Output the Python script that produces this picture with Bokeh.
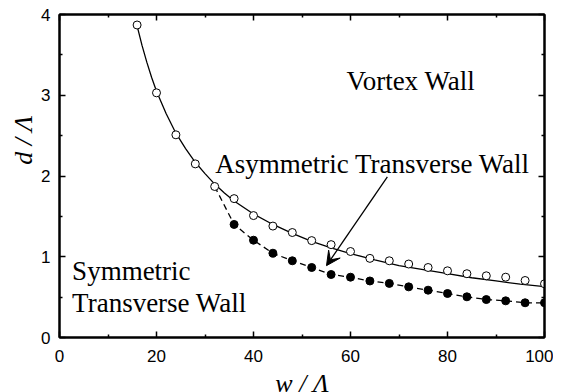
import math
from bokeh.plotting import figure
from bokeh.models import Range1d, LinearAxis, Label, Arrow, VeeHead, FixedTicker
from bokeh.embed import file_html
from bokeh.resources import INLINE

# open circles (Vortex / asymmetric boundary)
open_w = [16, 20, 24, 28, 32, 36, 40, 44, 48, 52, 56, 60, 64, 68, 72, 76, 80, 84, 88, 92, 96, 100]
open_d = [3.87, 3.03, 2.51, 2.15, 1.87, 1.72, 1.51, 1.38, 1.30, 1.20, 1.15, 1.065, 0.98, 0.95,
          0.91, 0.867, 0.826, 0.79, 0.764, 0.747, 0.706, 0.665]

# filled circles (symmetric / asymmetric boundary)
fill_w = [36, 40, 44, 48, 52, 56, 60, 64, 68, 72, 76, 80, 84, 88, 92, 96, 100]
fill_d = [1.40, 1.205, 1.044, 0.95, 0.867, 0.78, 0.747, 0.70, 0.67, 0.627, 0.586, 0.545,
          0.504, 0.47, 0.454, 0.43, 0.43]

# dashed connecting line (starts at the open point at w=32)
dash_w = [32] + fill_w
dash_d = [1.87] + fill_d

# solid fitted curve
fit_w = [16, 17, 18, 19, 20, 22, 24, 26, 28, 30, 32, 34, 36, 38, 40, 44, 48, 52, 56, 60,
         65, 70, 75, 80, 85, 90, 95, 100]
fit_d = [3.86, 3.62, 3.41, 3.22, 3.05, 2.77, 2.53, 2.34, 2.17, 2.03, 1.90, 1.79, 1.69, 1.61,
         1.53, 1.40, 1.29, 1.19, 1.11, 1.04, 0.96, 0.89, 0.84, 0.79, 0.74, 0.70, 0.66, 0.63]

x_ticks = [0, 20, 40, 60, 80, 100]
y_ticks = [0, 1, 2, 3, 4]
x_minor = [10, 30, 50, 70, 90]
y_minor = [0.5, 1.5, 2.5, 3.5]

SERIF = "Liberation Serif"
SANS = "Liberation Sans"

p = figure(frame_width=485, frame_height=323, output_backend="svg", toolbar_location=None,
           x_range=Range1d(0, 100), y_range=Range1d(0, 4),
           min_border_left=59, min_border_right=9, min_border_top=14, min_border_bottom=48)
p.grid.visible = False
p.outline_line_color = "black"
p.outline_line_width = 2


def style_axis(ax, ticks, minor, labels=True):
    ax.ticker = FixedTicker(ticks=ticks, minor_ticks=minor)
    ax.axis_line_width = 2
    ax.axis_line_color = "black"
    ax.major_tick_line_color = "black"
    ax.minor_tick_line_color = "black"
    ax.major_tick_in = 6
    ax.major_tick_out = 0
    ax.minor_tick_in = 3
    ax.minor_tick_out = 0
    ax.major_tick_line_width = 1.5
    ax.minor_tick_line_width = 1.5
    if labels:
        ax.major_label_text_font = SANS
        ax.major_label_text_font_size = "17px"
        ax.major_label_text_color = "black"
        ax.axis_label_text_font = SERIF
        ax.axis_label_text_font_size = "26px"
        ax.axis_label_text_font_style = "italic"
        ax.axis_label_text_color = "black"
    else:
        ax.major_label_text_color = None
        ax.major_label_text_font_size = "1px"
        ax.major_label_standoff = 0


style_axis(p.xaxis[0], x_ticks, x_minor)
style_axis(p.yaxis[0], y_ticks, y_minor)
p.xaxis[0].major_label_standoff = 12
p.yaxis[0].major_label_standoff = 9
p.xaxis[0].axis_label = "w / Λ"
p.yaxis[0].axis_label = "\u00a0" * 11 + "d / Λ"
p.xaxis[0].axis_label_standoff = 4
p.yaxis[0].axis_label_standoff = 0

xt = LinearAxis(); style_axis(xt, x_ticks, x_minor, labels=False)
yr = LinearAxis(); style_axis(yr, y_ticks, y_minor, labels=False)
p.add_layout(xt, "above")
p.add_layout(yr, "right")

# curves
p.line(fit_w, fit_d, line_color="black", line_width=1.3)
p.line(dash_w, dash_d, line_color="black", line_width=1.3, line_dash="6 4")
p.scatter(open_w, open_d, marker="circle", size=8, fill_color="white",
          line_color="black", line_width=1)
p.scatter(fill_w, fill_d, marker="circle", size=8, fill_color="black",
          line_color="black", line_width=1)

# annotations
def lab(x, y, text, size="27px"):
    p.add_layout(Label(x=x, y=y, text=text, text_font=SERIF, text_font_size=size,
                       text_align="left", text_baseline="alphabetic", text_color="black"))

lab(59.2, 3.18, "Vortex Wall")
lab(32.1, 2.15, "Asymmetric Transverse Wall")
lab(2.6, 0.82, "Symmetric")
lab(2.6, 0.43, "Transverse Wall")

p.add_layout(Arrow(x_start=67.6, y_start=1.99, x_end=55.05, y_end=0.89,
                   line_color="black", line_width=1.3,
                   end=VeeHead(size=14, fill_color="black", line_color="black", line_width=1)))

open("out.html", "w").write(file_html(p, INLINE))
